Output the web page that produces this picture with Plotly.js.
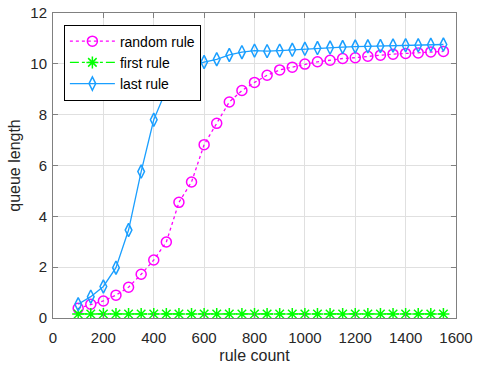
<!DOCTYPE html>
<html><head><meta charset="utf-8">
<script src="https://cdn.plot.ly/plotly-3.0.1.min.js"></script>
<style>html,body{margin:0;padding:0;background:#fff;}#chart{width:477px;height:366px;}</style>
</head><body><div id="chart"></div>
<script>
var ruleCount = [100,150,200,250,300,350,400,450,500,550,600,650,700,750,800,850,900,950,1000,1050,1100,1150,1200,1250,1300,1350,1400,1450,1500,1550];
var randomRule = [0.38,0.54,0.67,0.9,1.21,1.72,2.28,2.99,4.55,5.35,6.82,7.66,8.5,8.95,9.27,9.55,9.76,9.87,9.99,10.08,10.14,10.21,10.24,10.3,10.34,10.38,10.41,10.43,10.47,10.49];
var firstRule = [0.16,0.16,0.16,0.16,0.16,0.16,0.16,0.16,0.16,0.16,0.16,0.16,0.16,0.16,0.16,0.16,0.16,0.16,0.16,0.16,0.16,0.16,0.16,0.16,0.16,0.16,0.16,0.16,0.16,0.16];
var lastRule = [0.54,0.84,1.24,1.98,3.46,5.76,7.8,8.98,9.6,9.95,10.07,10.18,10.35,10.46,10.52,10.5,10.52,10.55,10.59,10.62,10.64,10.66,10.68,10.69,10.7,10.72,10.73,10.73,10.75,10.76];

var font = "Liberation Sans, Arial, sans-serif";
var traces = [
  {x: ruleCount, y: randomRule, name: 'random rule', mode: 'lines+markers',
   line: {color: '#ff00ff', dash: 'dot', width: 1.3},
   marker: {symbol: 'circle-open', size: 10, color: '#ff00ff', line: {width: 1.5, color: '#ff00ff'}}},
  {x: ruleCount, y: firstRule, name: 'first rule', mode: 'lines+markers',
   line: {color: '#00ff00', dash: 'dashdot', width: 1.3},
   marker: {symbol: 'asterisk-open', size: 10, color: '#00ff00', line: {width: 1.5, color: '#00ff00'}}},
  {x: ruleCount, y: lastRule, name: 'last rule', mode: 'lines+markers',
   line: {color: '#1a9fff', width: 1.3},
   marker: {symbol: 'diamond-tall-open', size: 9.5, color: '#1a9fff', line: {width: 1.5, color: '#1a9fff'}}}
];
var axisCommon = {
  showgrid: true, gridcolor: '#e0e0e0', gridwidth: 1,
  showline: true, linecolor: '#808080', linewidth: 1, mirror: 'ticks',
  ticks: 'inside', ticklen: 5, tickcolor: '#808080', zeroline: false,
  tickfont: {family: font, size: 15, color: '#262626'}
};
var layout = {
  width: 477, height: 366,
  margin: {l: 53, r: 21, t: 13, b: 48},
  paper_bgcolor: '#fff', plot_bgcolor: '#fff',
  showlegend: true,
  xaxis: Object.assign({}, axisCommon, {range: [0, 1600], dtick: 200, tick0: 0, ticklabelstandoff: 6,
    title: {text: 'rule count', font: {family: font, size: 16, color: '#262626'}, standoff: 4}}),
  yaxis: Object.assign({}, axisCommon, {range: [0, 12], dtick: 2, tick0: 0, ticklabelstandoff: 2,
    title: {text: 'queue length', font: {family: font, size: 16, color: '#262626'}, standoff: 5}}),
  legend: {x: 0.027, y: 0.962, xanchor: 'left', yanchor: 'top',
    bgcolor: '#fff', bordercolor: '#000', borderwidth: 1,
    font: {family: font, size: 14, color: '#000'}, itemwidth: 45, tracegroupgap: 0}
};
Plotly.newPlot('chart', traces, layout, {displayModeBar: false, staticPlot: true});
</script></body></html>
